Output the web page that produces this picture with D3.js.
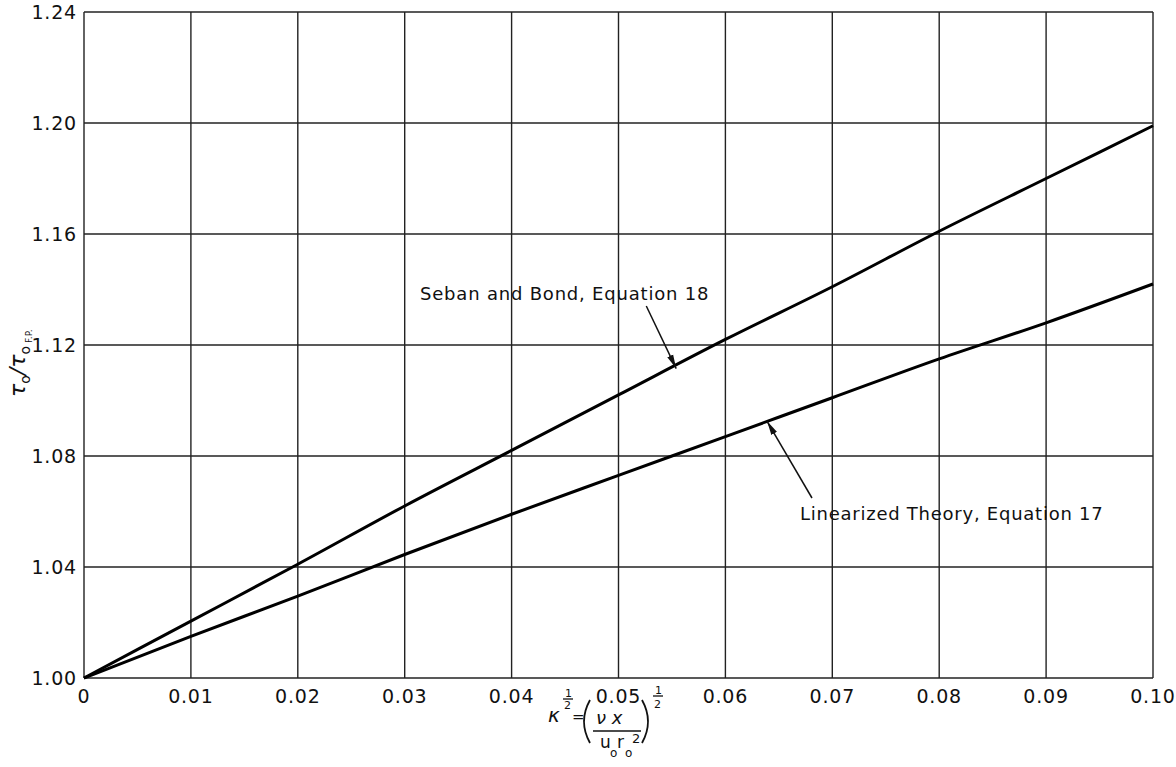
<!DOCTYPE html>
<html>
<head>
<meta charset="utf-8">
<script src="https://cdn.jsdelivr.net/npm/d3@7"></script>
<style>
  body { margin: 0; background: #fff; }
  text { font-family: "DejaVu Sans", sans-serif; fill: #111; }
</style>
</head>
<body>
<div id="chart"></div>
<script>
// Data
var xValues = [0, 0.01, 0.02, 0.03, 0.04, 0.05, 0.06, 0.07, 0.08, 0.09, 0.10];
var sebanBond = [1.000, 1.0205, 1.041, 1.062, 1.082, 1.102, 1.122, 1.141, 1.161, 1.180, 1.199];
var linearized = [1.000, 1.015, 1.0295, 1.0445, 1.059, 1.073, 1.087, 1.101, 1.115, 1.128, 1.142];
var xTicks = [0, 0.01, 0.02, 0.03, 0.04, 0.05, 0.06, 0.07, 0.08, 0.09, 0.10];
var xTickLabels = ["0", "0.01", "0.02", "0.03", "0.04", "0.05", "0.06", "0.07", "0.08", "0.09", "0.10"];
var yTicks = [1.00, 1.04, 1.08, 1.12, 1.16, 1.20, 1.24];
var yTickLabels = ["1.00", "1.04", "1.08", "1.12", "1.16", "1.20", "1.24"];

var W = 1176, H = 767;
var margin = {top: 12, right: 23, bottom: 89, left: 84},
    width = W - margin.left - margin.right,
    height = H - margin.top - margin.bottom;

var x = d3.scaleLinear().domain([0, 0.10]).range([0, width]);
var y = d3.scaleLinear().domain([1.00, 1.24]).range([height, 0]);

var svg = d3.select("#chart").append("svg")
    .attr("width", W)
    .attr("height", H);

var defs = svg.append("defs");
defs.append("marker")
    .attr("id", "arrow")
    .attr("viewBox", "0 0 14 8")
    .attr("refX", 14).attr("refY", 4)
    .attr("markerWidth", 14).attr("markerHeight", 8)
    .attr("markerUnits", "userSpaceOnUse")
    .attr("orient", "auto")
  .append("path")
    .attr("d", "M0,0.8 L14,4 L0,7.2 Z")
    .attr("fill", "#111");

var g = svg.append("g")
    .attr("transform", "translate(" + margin.left + "," + margin.top + ")");

// grid
g.selectAll(".vgrid")
    .data(xTicks)
  .enter().append("line")
    .attr("x1", function(d) { return x(d); })
    .attr("x2", function(d) { return x(d); })
    .attr("y1", 0).attr("y2", height)
    .attr("stroke", "#222").attr("stroke-width", 1.4);

g.selectAll(".hgrid")
    .data(yTicks)
  .enter().append("line")
    .attr("x1", 0).attr("x2", width)
    .attr("y1", function(d) { return y(d); })
    .attr("y2", function(d) { return y(d); })
    .attr("stroke", "#222").attr("stroke-width", 1.4);

// tick labels
g.selectAll(".xlab")
    .data(xTicks)
  .enter().append("text")
    .attr("x", function(d) { return x(d); })
    .attr("y", height + 25)
    .attr("text-anchor", "middle")
    .style("font-size", "19px")
    .style("letter-spacing", "0.8px")
    .text(function(d, i) { return xTickLabels[i]; });

g.selectAll(".ylab")
    .data(yTicks)
  .enter().append("text")
    .attr("x", -7)
    .attr("y", function(d) { return y(d) + 7; })
    .attr("text-anchor", "end")
    .style("font-size", "19px")
    .style("letter-spacing", "0.8px")
    .text(function(d, i) { return yTickLabels[i]; });

// curves
var line = d3.line()
    .x(function(d) { return x(d[0]); })
    .y(function(d) { return y(d[1]); })
    .curve(d3.curveMonotoneX);

[sebanBond, linearized].forEach(function(s) {
  g.append("path")
      .datum(xValues.map(function(v, i) { return [v, s[i]]; }))
      .attr("d", line)
      .attr("fill", "none")
      .attr("stroke", "#000")
      .attr("stroke-width", 3);
});

// annotations
g.append("text")
    .attr("x", 420 - margin.left)
    .attr("y", 300 - margin.top)
    .style("font-size", "18px")
    .style("letter-spacing", "0.8px")
    .text("Seban and Bond, Equation 18");

g.append("line")
    .attr("x1", x(0.0526)).attr("y1", 306 - margin.top)
    .attr("x2", x(0.0554)).attr("y2", y(1.1115))
    .attr("stroke", "#111").attr("stroke-width", 1.5)
    .attr("marker-end", "url(#arrow)");

g.append("text")
    .attr("x", 800 - margin.left)
    .attr("y", 520 - margin.top)
    .style("font-size", "18px")
    .style("letter-spacing", "0.75px")
    .text("Linearized Theory, Equation 17");

g.append("line")
    .attr("x1", x(0.0681)).attr("y1", 498 - margin.top)
    .attr("x2", x(0.0639)).attr("y2", y(1.0925))
    .attr("stroke", "#111").attr("stroke-width", 1.5)
    .attr("marker-end", "url(#arrow)");

// y axis title (rotated)
var yt = svg.append("text")
    .attr("transform", "translate(25,397) rotate(-90)")
    .style("font-size", "22px")
    .style("font-style", "italic");
yt.append("tspan").text("τ");
yt.append("tspan").attr("dy", 5).style("font-size", "14px").style("font-style", "normal").text("o");
yt.append("tspan").attr("dy", -5).text("/τ");
yt.append("tspan").attr("dy", 5).style("font-size", "14px").style("font-style", "normal").text("o");
yt.append("tspan").attr("dy", 2).attr("dx", 3).style("font-size", "9px").style("font-style", "normal").text("F.P.");

// x axis title: kappa^(1/2) = (nu x / (u_o r_o^2))^(1/2)
var xt = svg.append("g");
function t(px, py, s, size, style) {
  xt.append("text").attr("x", px).attr("y", py)
    .style("font-size", size + "px")
    .style("font-style", style || "normal")
    .text(s);
}
function bar(x1, x2, yy) {
  xt.append("line").attr("x1", x1).attr("x2", x2).attr("y1", yy).attr("y2", yy)
    .attr("stroke", "#111").attr("stroke-width", 1.3);
}
function paren(d) {
  xt.append("path").attr("d", d).attr("fill", "none")
    .attr("stroke", "#111").attr("stroke-width", 1.8);
}
t(548, 722, "κ", 20, "italic");
t(565, 697, "1", 11);
bar(563, 573, 699);
t(564, 709, "2", 11);
t(572, 722, "=", 15);
paren("M590,700 Q578,721.5 590,743");
t(596, 724, "ν x", 18, "italic");
bar(593, 641, 731);
t(600, 748, "u", 17);
t(610, 757, "o", 12);
t(617, 748, "r", 17);
t(625, 757, "o", 12);
t(632, 743, "2", 13);
paren("M642,700 Q654,721.5 642,743");
t(655, 694, "1", 11);
bar(653, 663, 696);
t(654, 708, "2", 11);
</script>
</body>
</html>
